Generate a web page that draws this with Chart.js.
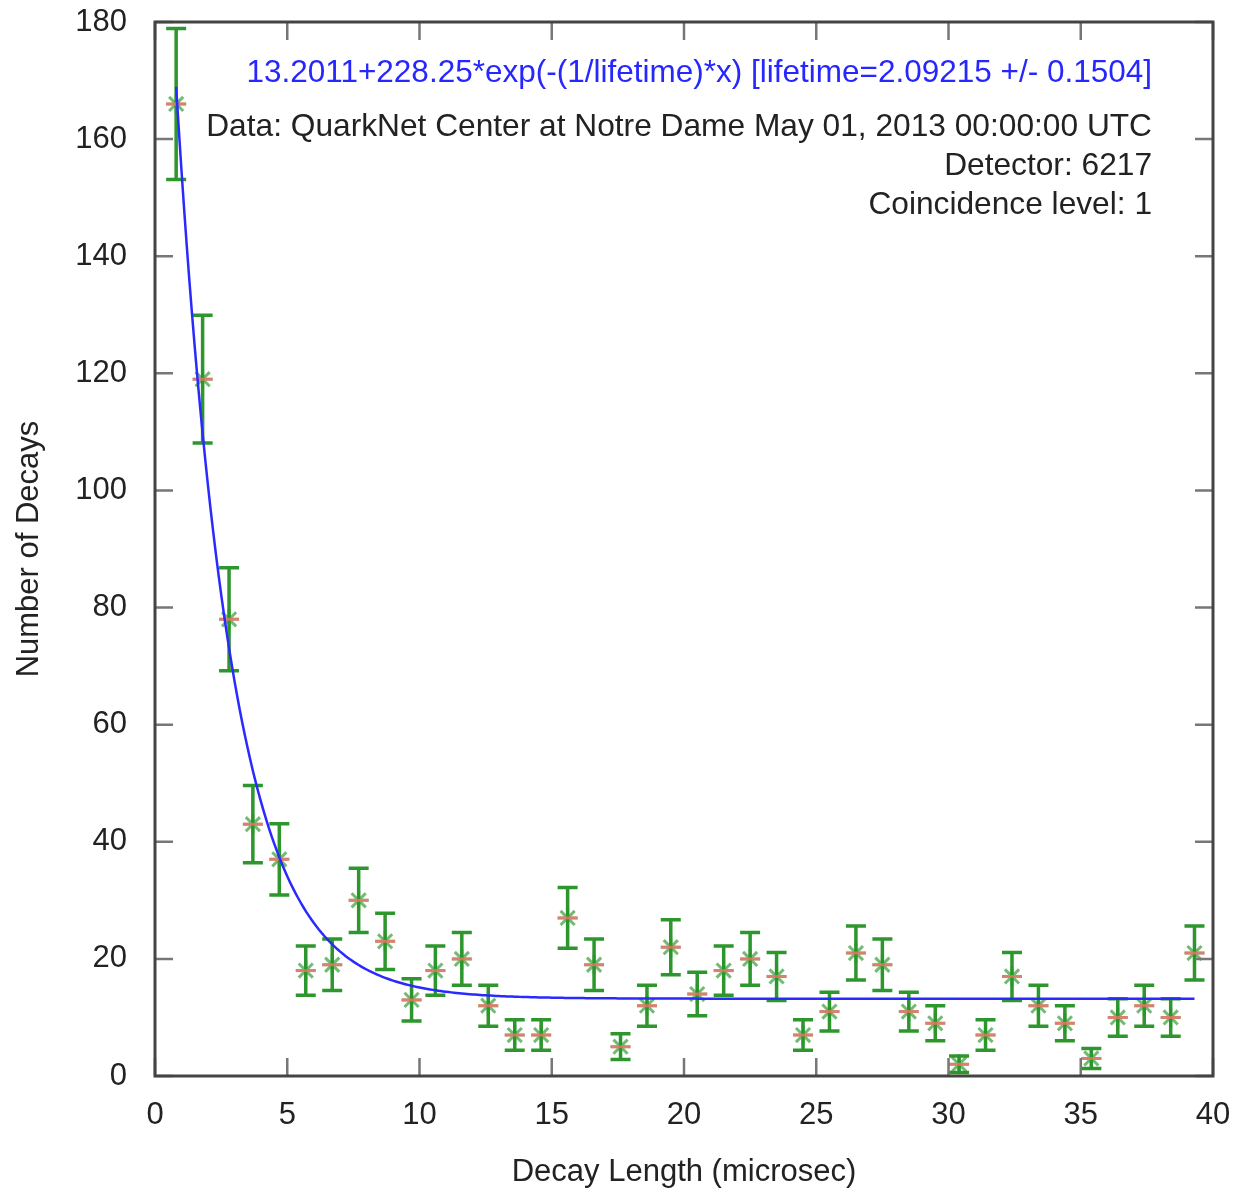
<!DOCTYPE html>
<html>
<head>
<meta charset="utf-8">
<script src="https://cdn.jsdelivr.net/npm/chart.js@4"></script>
<style>
  html, body { margin: 0; padding: 0; background: #fff; }
  #wrap { width: 1238px; height: 1191px; }
</style>
</head>
<body>
<div id="wrap"><canvas id="decayChart" width="1238" height="1191"></canvas></div>
<script>
// bin centres (microsec) and counts
const decayTimes = [0.8, 1.8, 2.8, 3.7, 4.7, 5.7, 6.7, 7.7, 8.7, 9.7,
  10.6, 11.6, 12.6, 13.6, 14.6, 15.6, 16.6, 17.6, 18.6, 19.5,
  20.5, 21.5, 22.5, 23.5, 24.5, 25.5, 26.5, 27.5, 28.5, 29.5,
  30.4, 31.4, 32.4, 33.4, 34.4, 35.4, 36.4, 37.4, 38.4, 39.3];
const decayCounts = [166, 119, 78, 43, 37, 18, 19, 30, 23, 13,
  18, 20, 12, 7, 7, 27, 19, 5, 12, 22,
  14, 18, 20, 17, 7, 11, 21, 19, 11, 9,
  2, 7, 17, 12, 9, 3, 10, 12, 10, 21];
const countErrors = [12.9, 10.9, 8.8, 6.6, 6.1, 4.2, 4.4, 5.5, 4.8, 3.6,
  4.2, 4.5, 3.5, 2.6, 2.6, 5.2, 4.4, 2.2, 3.5, 4.7,
  3.7, 4.2, 4.5, 4.1, 2.6, 3.3, 4.6, 4.4, 3.3, 3.0,
  1.4, 2.6, 4.1, 3.5, 3.0, 1.7, 3.2, 3.5, 3.2, 4.6];

// fit parameters printed on the chart
const fitOffset = 13.2011;
const fitAmplitude = 228.25;
const fitLifetime = 2.09215;
const fitLabel = "13.2011+228.25*exp(-(1/lifetime)*x) [lifetime=2.09215 +/- 0.1504]";
const infoLines = [
  "Data: QuarkNet Center at Notre Dame May 01, 2013 00:00:00 UTC",
  "Detector: 6217",
  "Coincidence level: 1"
];
const xTicks = [0, 5, 10, 15, 20, 25, 30, 35, 40];
const yTicks = [0, 20, 40, 60, 80, 100, 120, 140, 160, 180];

const FONT = "'Liberation Sans', Arial, sans-serif";

const fitPoints = [];
for (let x = decayTimes[0]; x <= decayTimes[decayTimes.length - 1] + 1e-9; x += 0.1) {
  fitPoints.push({ x: x, y: fitOffset + fitAmplitude * Math.exp(-x / fitLifetime) });
}
const points = decayTimes.map((t, i) => ({ x: t, y: decayCounts[i] }));

const framePlugin = {
  id: "frame",
  beforeDatasetsDraw(chart) {
    const { ctx, scales } = chart;
    ctx.save();
    // error bars
    ctx.strokeStyle = "rgb(45,150,45)";
    ctx.lineWidth = 3.5;
    decayTimes.forEach((t, i) => {
      const px = scales.x.getPixelForValue(t);
      const top = scales.y.getPixelForValue(decayCounts[i] + countErrors[i]);
      const bot = scales.y.getPixelForValue(decayCounts[i] - countErrors[i]);
      ctx.beginPath();
      ctx.moveTo(px, top); ctx.lineTo(px, bot);
      ctx.moveTo(px - 10, top); ctx.lineTo(px + 10, top);
      ctx.moveTo(px - 10, bot); ctx.lineTo(px + 10, bot);
      ctx.stroke();
    });
    ctx.restore();
  },
  afterDraw(chart) {
    const { ctx, chartArea: a, scales } = chart;
    ctx.save();
    // inward ticks on all four sides
    ctx.strokeStyle = "#777";
    ctx.lineWidth = 2.5;
    const tl = 18;
    ctx.beginPath();
    xTicks.forEach(v => {
      const px = scales.x.getPixelForValue(v);
      ctx.moveTo(px, a.bottom); ctx.lineTo(px, a.bottom - tl);
      ctx.moveTo(px, a.top); ctx.lineTo(px, a.top + tl);
    });
    yTicks.forEach(v => {
      const py = scales.y.getPixelForValue(v);
      ctx.moveTo(a.left, py); ctx.lineTo(a.left + tl, py);
      ctx.moveTo(a.right, py); ctx.lineTo(a.right - tl, py);
    });
    ctx.stroke();
    // border
    ctx.strokeStyle = "#444";
    ctx.lineWidth = 3;
    ctx.strokeRect(a.left, a.top, a.right - a.left, a.bottom - a.top);
    // key / labels
    ctx.textAlign = "right";
    ctx.textBaseline = "middle";
    ctx.font = "31.5px " + FONT;
    ctx.fillStyle = "#2626ff";
    ctx.fillText(fitLabel, 1152, 73);
    ctx.font = "31.7px " + FONT;
    ctx.fillStyle = "#222";
    ctx.fillText(infoLines[0], 1152, 127);
    ctx.fillText(infoLines[1], 1152, 166);
    ctx.fillText(infoLines[2], 1152, 205);
    ctx.restore();
  }
};

new Chart(document.getElementById("decayChart"), {
  type: "scatter",
  data: {
    datasets: [
      {
        type: "line",
        label: "fit",
        data: fitPoints,
        borderColor: "#2a2aff",
        borderWidth: 2.5,
        pointRadius: 0,
        tension: 0,
        fill: false
      },
      {
        label: "counts-mark",
        data: points,
        pointStyle: "line",
        pointRadius: 10,
        borderColor: "rgba(255,110,110,0.75)",
        borderWidth: 3
      },
      {
        label: "counts",
        data: points,
        pointStyle: "star",
        pointRadius: 10,
        borderColor: "rgba(40,150,40,0.65)",
        backgroundColor: "rgba(40,150,40,0.65)",
        borderWidth: 3
      }
    ]
  },
  options: {
    responsive: false,
    animation: false,
    layout: { padding: { top: 22, right: 25, left: 0, bottom: 0 } },
    plugins: { legend: { display: false }, tooltip: { enabled: false } },
    scales: {
      x: {
        type: "linear",
        min: 0, max: 40,
        grid: { display: false },
        border: { display: false },
        ticks: {
          stepSize: 5,
          padding: 13,
          color: "#222",
          font: { family: FONT, size: 31 },
          maxRotation: 0
        },
        title: {
          display: true,
          text: "Decay Length (microsec)",
          color: "#222",
          font: { family: FONT, size: 31 },
          padding: { top: 0, bottom: 0 }
        },
        afterFit(scale) {
          scale.height = 1191 - 1076;
          scale.paddingLeft = 0;
          scale.paddingRight = 0;
        }
      },
      y: {
        min: 0, max: 180,
        grid: { display: false },
        border: { display: false },
        ticks: {
          stepSize: 20,
          padding: 20,
          color: "#222",
          font: { family: FONT, size: 31 }
        },
        title: {
          display: true,
          text: "Number of Decays",
          color: "#222",
          font: { family: FONT, size: 31 },
          padding: { top: 11, bottom: 0 }
        },
        afterFit(scale) {
          scale.width = 155;
          scale.paddingTop = 0;
          scale.paddingBottom = 0;
        }
      }
    }
  },
  plugins: [framePlugin]
});
</script>
</body>
</html>
